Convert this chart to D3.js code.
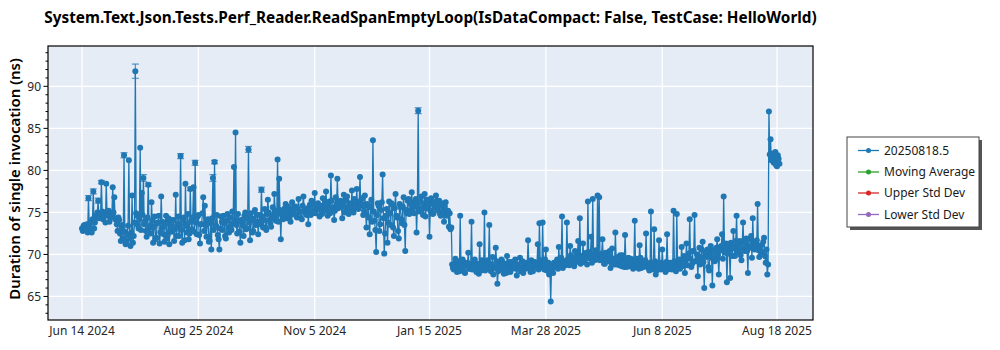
<!DOCTYPE html>
<html><head><meta charset="utf-8">
<script src="https://cdn.jsdelivr.net/npm/d3@7"></script>
<style>body{margin:0;background:#fff}svg{display:block}</style>
</head><body><svg id="c" width="1000" height="350"></svg>
<script>
const titleText = "System.Text.Json.Tests.Perf_Reader.ReadSpanEmptyLoop(IsDataCompact: False, TestCase: HelloWorld)";
const yLabelText = "Duration of single invocation (ns)";
const legendNames = ["20250818.5", "Moving Average", "Upper Std Dev", "Lower Std Dev"];
const legendColors = ["#1f77b4", "#2ca02c", "#d62728", "#9467bd"];
const startDate = "2024-06-14";
// morning runs (one per day from startDate)
const values = [
73.1,73.4,72.9,73.6,76.7,73.0,72.6,77.5,73.8,74.4,
76.4,74.9,78.6,74.2,75.0,78.4,74.6,73.9,74.8,78.0,
76.8,74.3,72.8,74.1,71.6,73.5,81.8,71.2,72.4,81.2,
71.0,77.0,72.2,91.8,74.6,73.1,82.7,77.3,79.1,74.0,
72.1,78.3,73.4,76.2,71.4,74.5,72.0,73.8,71.3,76.9,
73.2,71.5,74.6,72.3,71.2,74.1,72.8,71.6,77.1,73.5,
72.2,81.7,71.4,74.4,78.4,72.6,71.8,77.8,73.0,78.0,
80.9,72.4,74.7,71.3,73.6,76.8,75.8,72.1,74.2,71.6,
70.6,79.1,81.0,73.4,72.3,70.6,74.5,72.9,73.7,71.9,
74.8,72.6,73.3,75.1,80.4,84.5,72.5,74.0,71.4,73.8,
72.2,75.0,73.1,82.5,71.7,74.3,72.8,75.3,73.6,72.4,
74.7,77.7,73.2,75.4,72.9,76.5,74.1,73.3,75.6,77.2,
74.0,81.3,79.0,71.8,75.2,74.6,76.0,74.3,75.5,73.9,
76.2,74.8,75.7,74.4,76.6,75.1,74.2,76.9,75.3,74.7,
73.6,75.9,76.4,74.9,77.3,75.4,76.1,74.5,75.8,76.7,
75.2,77.5,74.6,76.3,79.4,75.5,74.1,76.8,79.0,75.7,
76.4,74.3,77.1,75.6,76.9,74.8,75.9,77.6,75.0,76.2,
77.8,75.4,79.2,76.0,74.7,77.0,73.2,75.8,72.4,76.5,
83.6,74.0,70.3,76.1,72.8,75.3,79.5,70.1,74.6,71.4,
76.3,73.5,75.9,72.2,77.2,74.4,71.9,75.6,73.7,76.8,
70.4,74.9,76.6,75.2,77.4,75.8,76.3,72.6,87.1,75.4,
76.9,74.7,77.2,75.5,76.1,72.1,76.7,74.8,75.9,77.0,
75.3,76.4,74.6,75.8,73.9,76.2,75.0,73.3,73.0,68.8,
68.2,69.5,67.9,68.7,74.6,68.4,69.1,67.8,68.9,70.2,
68.3,73.9,68.6,69.4,67.9,68.8,71.2,68.1,69.0,75.0,
68.5,69.3,73.5,68.0,69.7,68.4,70.8,66.5,68.9,68.2,
69.2,67.7,68.6,69.8,68.3,67.9,69.1,68.5,69.4,67.5,
68.8,69.6,68.1,67.8,69.0,68.4,71.7,68.7,69.3,68.0,
69.1,68.5,71.2,73.7,68.9,73.8,68.2,70.6,68.7,67.6,
64.4,68.3,69.0,68.6,69.4,70.9,68.8,74.5,69.2,68.7,
73.8,69.5,71.0,68.9,69.6,70.4,69.1,71.6,74.3,69.8,
71.3,69.4,70.2,76.3,69.7,72.1,76.6,69.3,70.5,77.0,
76.8,69.9,71.8,68.9,70.2,69.5,69.8,68.4,70.7,69.2,
72.6,68.8,69.4,69.9,68.6,69.3,72.3,68.5,69.6,68.9,
69.1,68.3,74.0,69.5,68.7,71.1,68.4,69.2,68.8,72.5,
68.6,68.1,75.1,68.5,73.0,67.6,68.9,71.7,68.2,70.6,
68.7,67.9,72.4,68.4,69.0,68.2,75.2,68.6,74.8,69.1,
68.3,70.9,69.4,67.8,71.3,69.6,74.2,68.5,70.4,74.7,
69.2,67.4,70.8,69.7,71.5,66.0,69.9,70.6,68.1,71.0,
66.3,70.3,69.5,71.8,67.6,70.9,72.4,76.9,70.2,66.7,
71.2,67.2,70.7,72.8,69.8,74.6,70.5,71.6,69.3,73.8,
70.4,71.9,67.8,70.9,72.2,74.3,70.6,71.4,76.0,69.7,
71.1,70.2,72.0,69.0,67.6,87.0,83.7,81.6,80.9,82.2,
80.5,81.4
];
// midday runs (one per day from startDate, 12 h later)
const valuesNoon = [
72.8,73.5,73.0,72.6,73.3,73.9,74.2,73.1,74.6,75.0,
74.3,74.8,75.1,74.5,73.8,74.9,75.2,74.4,74.7,75.0,
74.2,73.6,74.4,72.5,73.0,71.9,72.7,71.5,73.4,72.0,
72.6,71.4,73.8,74.9,73.5,74.2,72.9,74.7,73.6,72.8,
74.4,73.1,72.5,74.0,73.3,71.8,73.7,74.6,72.6,73.9,
72.4,73.8,71.9,74.3,73.5,72.7,74.1,73.0,72.2,74.5,
73.6,72.9,74.2,71.7,73.4,74.8,72.5,73.9,74.4,72.7,
73.8,74.5,72.3,73.6,74.9,72.8,73.5,74.1,71.5,73.7,
74.3,72.9,73.3,74.7,71.8,73.1,73.9,74.6,72.2,74.0,
73.2,74.4,72.9,73.7,74.2,73.5,74.8,72.7,74.1,73.4,
74.6,73.0,74.3,73.8,74.9,72.6,74.0,73.5,74.7,73.9,
73.6,74.5,74.1,73.2,74.8,75.0,73.7,74.6,74.3,75.2,
74.7,73.9,75.3,74.8,74.2,75.5,74.9,75.7,74.4,75.1,
74.9,75.6,74.6,75.4,75.0,74.3,75.8,75.2,74.8,75.5,
75.3,74.7,75.9,75.1,74.9,76.0,75.4,75.7,74.8,75.6,
76.1,75.3,75.8,74.9,76.4,75.6,75.2,76.0,75.5,76.3,
75.7,76.2,75.0,76.5,75.4,76.1,75.8,75.3,76.6,75.9,
75.5,76.3,75.8,76.7,75.2,74.8,76.0,74.4,75.6,73.9,
75.1,72.9,74.7,75.8,73.6,76.2,74.3,72.5,75.4,73.8,
74.9,76.1,73.2,75.5,74.6,72.8,76.0,74.2,75.7,73.5,
75.3,76.4,74.8,76.0,75.5,74.9,76.6,75.7,75.1,76.3,
75.4,76.0,74.5,76.5,75.8,75.2,76.2,74.9,75.6,76.4,
75.9,74.8,76.1,75.3,75.7,74.6,75.2,74.9,73.2,68.4,
68.9,68.5,69.2,68.0,68.6,69.4,67.9,68.7,69.0,68.3,
68.8,68.2,69.1,68.5,68.9,67.7,68.6,69.3,68.4,68.1,
68.7,69.0,68.3,68.8,67.6,68.5,69.2,68.0,68.6,69.4,
68.4,68.9,67.8,68.6,69.1,68.2,68.7,69.0,68.3,68.8,
68.5,68.0,69.2,68.6,68.3,69.0,68.7,67.9,68.4,69.1,
68.6,68.9,68.2,69.3,68.5,68.8,69.4,68.1,69.0,68.4,
68.7,67.8,68.5,69.1,68.3,68.9,69.6,68.4,69.2,68.8,
69.4,68.7,69.9,69.2,68.6,69.5,70.0,69.3,68.9,69.7,
69.1,69.8,68.8,70.3,69.5,69.0,69.9,70.2,69.4,69.7,
69.3,70.1,69.6,68.9,69.8,69.2,70.4,69.0,69.5,68.8,
69.4,69.7,68.7,69.2,69.9,68.5,69.3,69.0,68.6,69.5,
68.9,69.4,68.6,69.1,68.3,69.6,68.8,68.5,69.3,68.7,
68.4,69.0,68.2,68.8,69.2,68.1,68.6,69.0,68.3,68.9,
68.5,69.1,68.2,68.7,68.9,68.4,69.2,68.0,68.8,69.4,
69.0,68.6,69.8,69.3,68.7,70.1,69.5,68.9,70.4,69.2,
70.0,69.4,68.8,70.6,69.1,70.3,69.7,68.5,70.2,69.6,
70.5,69.2,70.8,69.9,70.4,71.0,69.5,70.7,71.3,70.1,
70.6,71.4,69.8,70.9,71.6,70.3,71.1,69.9,71.5,70.7,
71.2,70.4,71.8,70.8,69.6,71.3,70.9,71.7,70.5,71.0,
70.3,71.5,69.8,70.6,68.8,81.9,81.2,82.0,81.0,80.6,
81.8,80.8
];
// visible error bars (index into morning runs, half-size in ns)
const errIndex = [4, 7, 10, 26, 33, 38, 41, 61, 70, 81, 103, 111, 208, 12, 67, 82];
const errSize  = [0.3, 0.3, 0.3, 0.3, 0.85, 0.4, 0.2, 0.3, 0.3, 0.4, 0.35, 0.3, 0.35, 0.2, 0.2, 0.2];
const xTickLabels = ["Jun 14 2024", "Aug 25 2024", "Nov 5 2024", "Jan 15 2025", "Mar 28 2025", "Jun 8 2025", "Aug 18 2025"];
const yTicks = [65, 70, 75, 80, 85, 90];
const yDomain = [62.2, 94.8];

const svg = d3.select("#c");
const M = {left: 48, right: 813, top: 46, bottom: 320};
const FONT = "'Noto Sans', 'Open Sans', sans-serif";

const parseTick = d3.timeParse("%b %d %Y");
const xTickDates = xTickLabels.map(parseTick);
const t0 = d3.timeParse("%Y-%m-%d")(startDate);
const dates = values.map((v, i) => d3.timeDay.offset(t0, i));
const points = [];
values.forEach((v, i) => {
  points.push({date: dates[i], v: v});
  points.push({date: d3.timeHour.offset(dates[i], 12), v: valuesNoon[i]});
});

const anchor = d3.scaleTime().domain([xTickDates[0], xTickDates[xTickDates.length - 1]]).range([82, 777]);
const x = d3.scaleTime().domain([anchor.invert(M.left), anchor.invert(M.right)]).range([M.left, M.right]);
const y = d3.scaleLinear().domain(yDomain).range([M.bottom, M.top]);

const blue = legendColors[0];

svg.append("rect").attr("x", M.left).attr("y", M.top).attr("width", M.right - M.left).attr("height", M.bottom - M.top).attr("fill", "#e5ecf6");

const g = svg.append("g");
g.selectAll(".gx").data(xTickDates).join("line")
  .attr("x1", d => x(d)).attr("x2", d => x(d)).attr("y1", M.top).attr("y2", M.bottom)
  .attr("stroke", "#fff").attr("stroke-width", 1.3);
g.selectAll(".gy").data(yTicks).join("line")
  .attr("y1", d => y(d)).attr("y2", d => y(d)).attr("x1", M.left).attr("x2", M.right)
  .attr("stroke", "#fff").attr("stroke-width", 1.3);

svg.append("clipPath").attr("id", "clip").append("rect").attr("x", M.left).attr("y", M.top).attr("width", M.right - M.left).attr("height", M.bottom - M.top);
const plot = svg.append("g").attr("clip-path", "url(#clip)");

const line = d3.line().x(d => x(d.date)).y(d => y(d.v));
plot.append("path").datum(points).attr("d", line).attr("fill", "none").attr("stroke", blue).attr("stroke-width", 1.3);

const errs = errIndex.map((idx, k) => ({i: idx, e: errSize[k]}));
const eb = plot.append("g").attr("stroke", blue).attr("stroke-opacity", 0.75).attr("stroke-width", 1.2);
errs.forEach(d => {
  const cx = x(dates[d.i]);
  const v = values[d.i];
  eb.append("line").attr("x1", cx).attr("x2", cx).attr("y1", y(v - d.e)).attr("y2", y(v + d.e));
  eb.append("line").attr("x1", cx - 3.5).attr("x2", cx + 3.5).attr("y1", y(v - d.e)).attr("y2", y(v - d.e));
  eb.append("line").attr("x1", cx - 3.5).attr("x2", cx + 3.5).attr("y1", y(v + d.e)).attr("y2", y(v + d.e));
});

plot.selectAll("circle.pt").data(points).join("circle")
  .attr("cx", d => x(d.date)).attr("cy", d => y(d.v)).attr("r", 3)
  .attr("fill", blue);

svg.append("rect").attr("x", M.left).attr("y", M.top).attr("width", M.right - M.left).attr("height", M.bottom - M.top)
  .attr("fill", "none").attr("stroke", "#000").attr("stroke-width", 1.2);

const yAxis = svg.append("g");
const minorTicks = d3.range(63, 95, 1).filter(v => !yTicks.includes(v));
yAxis.selectAll(".mt").data(minorTicks).join("line")
  .attr("x1", M.left - 2.5).attr("x2", M.left).attr("y1", d => y(d)).attr("y2", d => y(d)).attr("stroke", "#000");
yAxis.selectAll(".Mt").data(yTicks).join("line")
  .attr("x1", M.left - 4.5).attr("x2", M.left).attr("y1", d => y(d)).attr("y2", d => y(d)).attr("stroke", "#000");
yAxis.selectAll("text").data(yTicks).join("text")
  .attr("x", M.left - 7).attr("y", d => y(d) + 4.3).attr("text-anchor", "end")
  .attr("font-family", FONT).attr("font-size", 12).attr("fill", "#262626").text(d => d);

svg.append("g").selectAll("text").data(xTickDates).join("text")
  .attr("x", d => x(d)).attr("y", 335).attr("text-anchor", "middle")
  .attr("font-family", FONT).attr("font-size", 12).attr("fill", "#262626")
  .text((d, i) => xTickLabels[i]);

const title = svg.append("text").attr("x", 430.5).attr("y", 23).attr("text-anchor", "middle")
  .attr("font-family", FONT).attr("font-weight", 700).attr("font-size", 15).attr("fill", "#000").text(titleText);
let tw = title.node().getComputedTextLength();
title.attr("font-size", 15 * 773 / tw);

const yl = svg.append("text").attr("transform", `translate(20,179) rotate(-90)`).attr("text-anchor", "middle")
  .attr("font-family", FONT).attr("font-weight", 600).attr("font-size", 16).attr("fill", "#000").text(yLabelText);
let yw = yl.node().getComputedTextLength();
yl.attr("font-size", 16 * 242 / yw);

const L = {x: 847, y: 137, w: 132, h: 90};
svg.append("rect").attr("x", L.x + 3).attr("y", L.y + 3).attr("width", L.w).attr("height", L.h).attr("fill", "#555");
svg.append("rect").attr("x", L.x).attr("y", L.y).attr("width", L.w).attr("height", L.h).attr("fill", "#fff").attr("stroke", "#444").attr("stroke-width", 1);
const rowY = [150.5, 172, 193, 214.5];
legendNames.forEach((n, i) => {
  const gy = rowY[i];
  svg.append("line").attr("x1", 858).attr("x2", 879).attr("y1", gy).attr("y2", gy).attr("stroke", legendColors[i]).attr("stroke-width", 1.3);
  svg.append("circle").attr("cx", 868.5).attr("cy", gy).attr("r", 2.5).attr("fill", legendColors[i]);
  svg.append("text").attr("x", 884).attr("y", gy + 4).attr("font-family", FONT).attr("font-size", 12).attr("fill", "#1a1a1a").text(n);
});
</script></body></html>
